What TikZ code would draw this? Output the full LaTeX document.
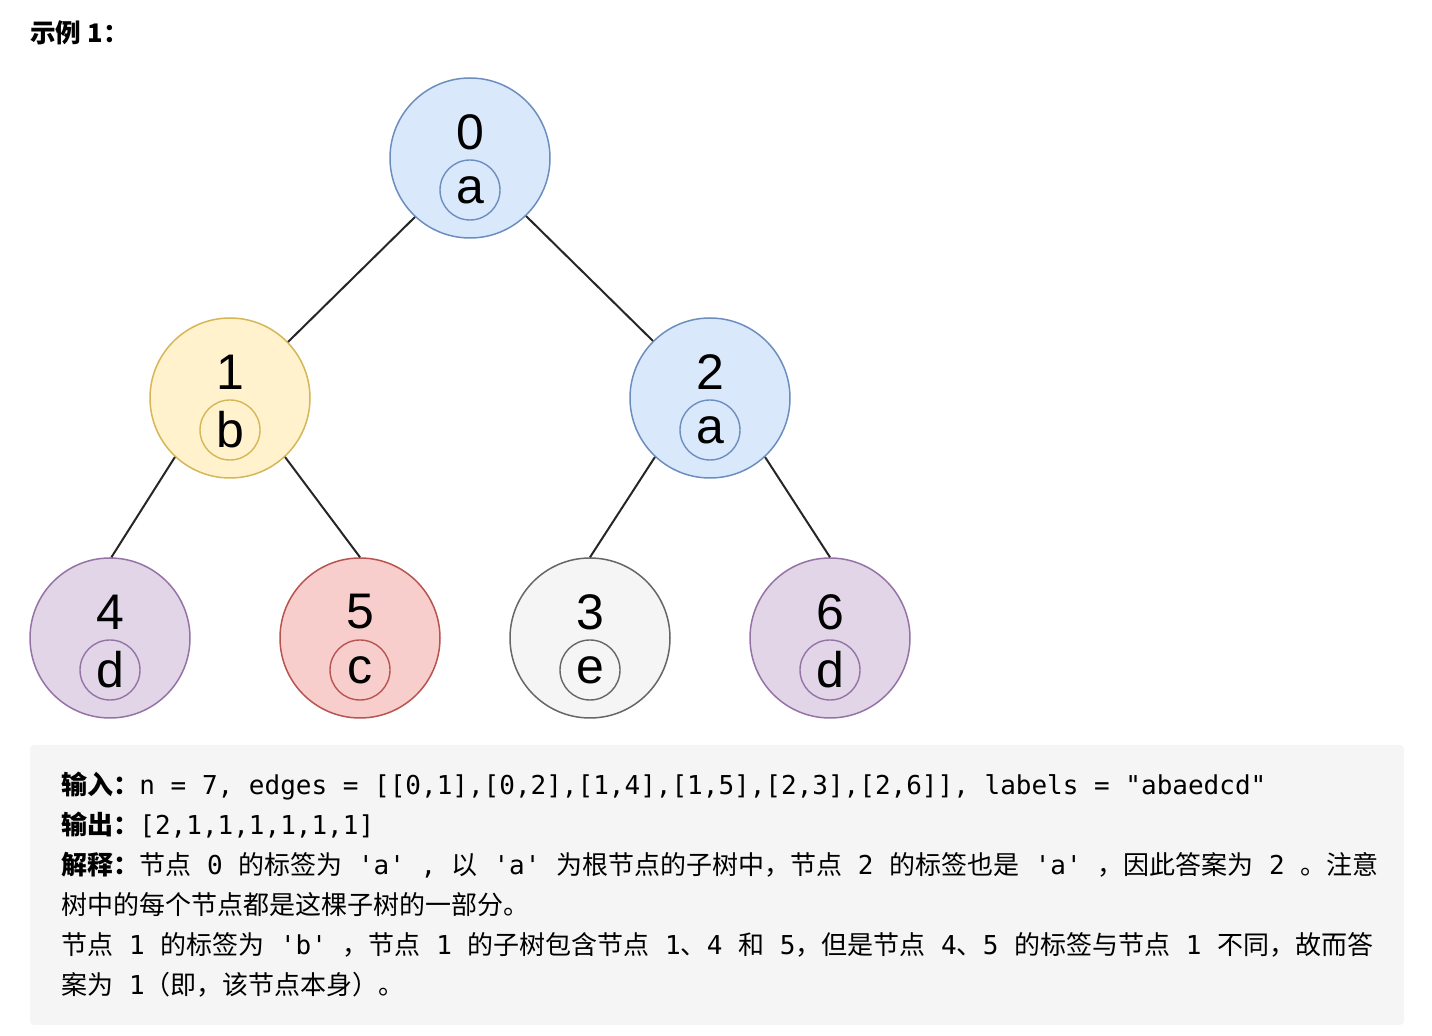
\documentclass[tikz,border=0pt]{standalone}
\usepackage{fontspec}
\setmainfont{Liberation Sans}
\newfontfamily\cjkfont{Noto Sans CJK SC}
\newfontfamily\codefont[Ligatures=TeXOff]{DejaVu Sans Mono}
\usetikzlibrary{positioning}
\definecolor{blueFill}{RGB}{218,232,252}
\definecolor{blueLine}{RGB}{108,142,191}
\definecolor{yellowFill}{RGB}{255,242,204}
\definecolor{yellowLine}{RGB}{214,182,86}
\definecolor{purpleFill}{RGB}{225,213,231}
\definecolor{purpleLine}{RGB}{150,115,166}
\definecolor{redFill}{RGB}{248,206,204}
\definecolor{redLine}{RGB}{184,84,80}
\definecolor{greyFill}{RGB}{245,245,245}
\definecolor{greyLine}{RGB}{102,102,102}
\definecolor{boxgray}{RGB}{245,245,245}

\begin{document}
\begin{tikzpicture}[
  x=0.5pt,y=-0.5pt,
  tnode/.style={circle,line width=0.75pt,minimum size=80pt,inner sep=0pt},
  idtxt/.style={font=\fontsize{25}{30}\selectfont,inner sep=0pt},
  lblcirc/.style={circle,line width=0.7pt,minimum size=30pt,inner sep=0pt,
    font=\fontsize{25}{30}\selectfont},
  edge/.style={line width=1pt,black!85},
  txt/.style={anchor=base west,inner sep=0pt,
    font=\codefont\fontsize{13}{16}\selectfont}]

% page size (px grid, y down)
\useasboundingbox (0,0) rectangle (1432,1036);

% title
\node[anchor=base west,inner sep=0pt,font=\cjkfont\bfseries\fontsize{12.8}{15}\selectfont]
  (title) at (30,43) {示例 1：};

% ---- tree nodes ----
\node[tnode,draw=blueLine,fill=blueFill] (n0) at (470,158) {};
\node[idtxt] (n0-id) at (470,132) {0};
\node[lblcirc,draw=blueLine] (n0-lbl) at (470,190) {a};

\node[tnode,draw=yellowLine,fill=yellowFill] (n1) at (230,398) {};
\node[idtxt] (n1-id) at (230,372) {1};
\node[lblcirc,draw=yellowLine] (n1-lbl) at (230,430) {b};

\node[tnode,draw=blueLine,fill=blueFill] (n2) at (710,398) {};
\node[idtxt] (n2-id) at (710,372) {2};
\node[lblcirc,draw=blueLine] (n2-lbl) at (710,430) {a};

\node[tnode,draw=purpleLine,fill=purpleFill] (n4) at (110,638) {};
\node[idtxt] (n4-id) at (110,612) {4};
\node[lblcirc,draw=purpleLine] (n4-lbl) at (110,670) {d};

\node[tnode,draw=redLine,fill=redFill] (n5) at (360,638) {};
\node[idtxt] (n5-id) at (360,612) {5};
\node[lblcirc,draw=redLine] (n5-lbl) at (360,670) {c};

\node[tnode,draw=greyLine,fill=greyFill] (n3) at (590,638) {};
\node[idtxt] (n3-id) at (590,612) {3};
\node[lblcirc,draw=greyLine] (n3-lbl) at (590,670) {e};

\node[tnode,draw=purpleLine,fill=purpleFill] (n6) at (830,638) {};
\node[idtxt] (n6-id) at (830,612) {6};
\node[lblcirc,draw=purpleLine] (n6-lbl) at (830,670) {d};

% ---- edges ----
\draw[edge] (n0.227) -- (n1.44);
\draw[edge] (n0.314) -- (n2.135);
\draw[edge] (n1.227) -- (n4.89);
\draw[edge] (n1.313) -- (n5.90);
\draw[edge] (n2.227) -- (n3.90);
\draw[edge] (n2.313) -- (n6.90);

% ---- explanation box ----
\fill[boxgray,rounded corners=2pt] (30,745) rectangle (1404,1025);
\node[txt] (ln1) at (61,795)
  {{\cjkfont\bfseries 输入：}n = 7, edges = [[0,1],[0,2],[1,4],[1,5],[2,3],[2,6]], labels = "abaedcd"};
\node[txt] (ln2) at (61,835)
  {{\cjkfont\bfseries 输出：}[2,1,1,1,1,1,1]};
\node[txt] (ln3) at (61,875)
  {{\cjkfont\bfseries 解释：}{\cjkfont 节点} 0 {\cjkfont 的标签为} 'a' , {\cjkfont 以} 'a' {\cjkfont 为根节点的子树中，节点} 2 {\cjkfont 的标签也是} 'a' {\cjkfont ，因此答案为} 2 {\cjkfont 。注意}};
\node[txt] (ln4) at (61,915)
  {{\cjkfont 树中的每个节点都是这棵子树的一部分。}};
\node[txt] (ln5) at (61,955)
  {{\cjkfont 节点} 1 {\cjkfont 的标签为} 'b' {\cjkfont ，节点} 1 {\cjkfont 的子树包含节点} 1{\cjkfont 、}4 {\cjkfont 和} 5{\cjkfont ，但是节点} 4{\cjkfont 、}5 {\cjkfont 的标签与节点} 1 {\cjkfont 不同，故而答}};
\node[txt] (ln6) at (61,995)
  {{\cjkfont 案为} 1{\cjkfont （即，该节点本身）。}};
\end{tikzpicture}
\end{document}
